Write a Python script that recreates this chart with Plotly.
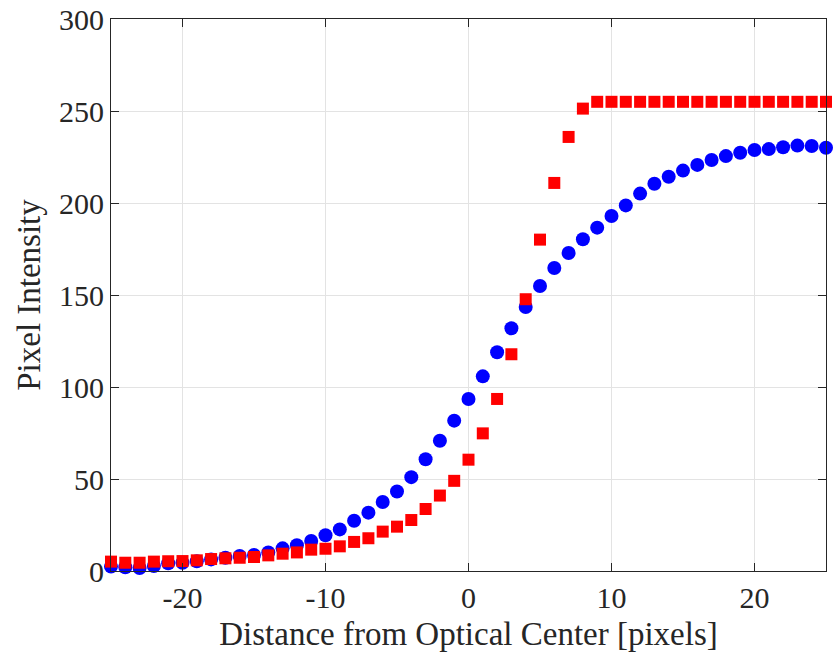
import plotly.graph_objects as go

x_vals = list(range(-25, 26))

blue_vals = [2.4, 2.0, 1.6, 2.7, 4.2, 4.5, 5.3, 6.3, 7.2, 8.2,
             8.7, 10.1, 12.3, 14.0, 16.3, 19.4, 22.6, 27.3, 31.7, 37.5,
             43.2, 51.0, 60.7, 70.8, 81.7, 93.5, 105.8, 118.9, 131.9, 143.5,
             154.9, 164.7, 172.8, 180.3, 186.6, 192.9, 198.7, 205.1, 210.5, 214.3,
             217.6, 220.7, 223.4, 225.5, 227.3, 228.8, 229.3, 230.3, 231.2, 231.0,
             230.0]

red_vals = [5.1, 4.5, 4.5, 5.1, 5.3, 5.4, 5.8, 6.5, 6.9, 7.2,
            7.6, 8.5, 9.4, 10.1, 11.6, 12.1, 13.4, 15.8, 17.8, 21.4,
            24.1, 27.7, 33.7, 41.0, 49.0, 60.5, 74.8, 93.5, 117.8, 147.7,
            180.1, 210.9, 235.9, 251.3, 255, 255, 255, 255, 255, 255,
            255, 255, 255, 255, 255, 255, 255, 255, 255, 255,
            255]

x_ticks = [-20, -10, 0, 10, 20]
y_ticks = [0, 50, 100, 150, 200, 250, 300]

FONT = "Liberation Serif"
AX = "#262626"

fig = go.Figure()
fig.add_trace(go.Scatter(x=x_vals, y=blue_vals, mode="markers", cliponaxis=False,
                         marker=dict(symbol="circle", size=14, color="#0000ff",
                                     line=dict(width=0)),
                         showlegend=False))
fig.add_trace(go.Scatter(x=x_vals, y=red_vals, mode="markers", cliponaxis=False,
                         marker=dict(symbol="square", size=12, color="#ff0000",
                                     line=dict(width=0)),
                         showlegend=False))

axis_common = dict(showline=True, linecolor=AX, linewidth=1, mirror="ticks",
                   ticks="inside", ticklen=8, tickcolor=AX, tickwidth=1,
                   showgrid=True, gridcolor="#e3e3e3", gridwidth=1,
                   zeroline=False, automargin=False,
                   tickfont=dict(family=FONT, size=30, color=AX))

fig.update_xaxes(range=[-25, 25], tickvals=x_ticks,
                 ticktext=[str(v) for v in x_ticks],
                 title=dict(text="Distance from Optical Center [pixels]",
                            font=dict(family=FONT, size=33, color=AX), standoff=8),
                 **axis_common)
fig.update_yaxes(range=[0, 300], tickvals=y_ticks,
                 ticktext=[str(v) for v in y_ticks],
                 title=dict(text="Pixel Intensity",
                            font=dict(family=FONT, size=33, color=AX), standoff=8),
                 **axis_common)

fig.update_layout(width=838, height=661,
                  margin=dict(l=111, r=12, t=19, b=90),
                  paper_bgcolor="white", plot_bgcolor="white",
                  font=dict(family=FONT, color=AX))

fig.write_html("out.html")
